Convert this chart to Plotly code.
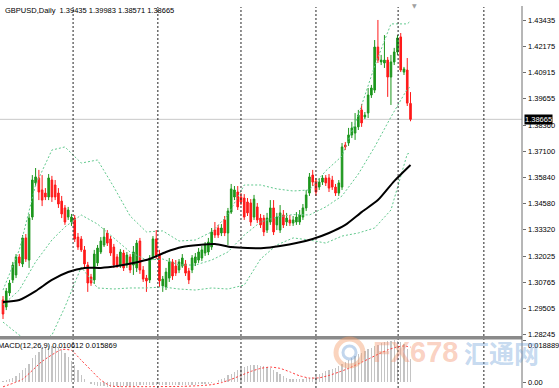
import plotly.graph_objects as go

# ---------------- data ----------------
open_ = [1.2993,1.2959,1.3027,1.3090,1.3114,1.3201,1.3167,1.3293,1.3186,1.3394,
1.3559,1.3583,1.3525,1.3510,1.3491,1.3573,1.3549,1.3510,1.3471,1.3438,
1.3394,1.3370,1.3389,1.3297,1.3288,1.3235,1.3162,1.3104,1.3090,1.3172,
1.3225,1.3259,1.3317,1.3288,1.3249,1.3201,1.3162,1.3220,1.3162,1.3201,
1.3162,1.3148,1.3278,1.3138,1.3099,1.3090,1.3201,1.3288,1.3215,1.3061,
1.3056,1.3099,1.3177,1.3157,1.3138,1.3157,1.3167,1.3133,1.3138,1.3172,
1.3186,1.3196,1.3220,1.3225,1.3249,1.3331,1.3341,1.3317,1.3380,1.3317,
1.3418,1.3491,1.3515,1.3491,1.3486,1.3467,1.3462,1.3394,1.3443,1.3389,
1.3389,1.3331,1.3370,1.3438,1.3356,1.3331,1.3404,1.3370,1.3380,1.3365,
1.3370,1.3370,1.3394,1.3438,1.3510,1.3597,1.3568,1.3539,1.3563,1.3583,
1.3583,1.3573,1.3539,1.3510,1.3539,1.3742,1.3752,1.3791,1.3800,1.3830,
1.3912,1.3878,1.3897,1.3984,1.4008,1.4216,1.4144,1.4139,1.4153,1.4071,
1.4144,1.4192,1.4265,1.4095,1.4105,1.39435]
high = [1.3012,1.3051,1.3090,1.3177,1.3215,1.3215,1.3307,1.3312,1.3409,1.3597,
1.3631,1.3622,1.3597,1.3534,1.3602,1.3593,1.3573,1.3534,1.3496,1.3452,
1.3443,1.3409,1.3404,1.3317,1.3302,1.3254,1.3177,1.3119,1.3235,1.3259,
1.3297,1.3341,1.3331,1.3302,1.3264,1.3215,1.3239,1.3235,1.3225,1.3215,
1.3254,1.3283,1.3293,1.3157,1.3114,1.3210,1.3302,1.3331,1.3235,1.3109,
1.3148,1.3196,1.3191,1.3186,1.3191,1.3215,1.3186,1.3148,1.3210,1.3220,
1.3244,1.3254,1.3273,1.3293,1.3341,1.3370,1.3356,1.3360,1.3399,1.3438,
1.3554,1.3544,1.3544,1.3510,1.3505,1.3486,1.3481,1.3501,1.3462,1.3409,
1.3404,1.3414,1.3476,1.3476,1.3414,1.3452,1.3428,1.3414,1.3404,1.3399,
1.3418,1.3428,1.3457,1.3525,1.3607,1.3622,1.3583,1.3583,1.3597,1.3597,
1.3602,1.3593,1.3554,1.3573,1.3752,1.3757,1.3825,1.3854,1.3897,1.3912,
1.3941,1.3902,1.4018,1.4033,1.4250,1.4347,1.4178,1.4274,1.4168,1.4178,
1.4212,1.4274,1.4284,1.4120,1.4163,1.39983]
low = [1.2901,1.2944,1.3012,1.3075,1.3099,1.3157,1.3152,1.3177,1.3148,1.3380,
1.3544,1.3476,1.3447,1.3476,1.3476,1.3467,1.3476,1.3438,1.3389,1.3356,
1.3380,1.3351,1.3273,1.3235,1.3225,1.3148,1.3032,1.3061,1.3070,1.3157,
1.3215,1.3249,1.3254,1.3206,1.3148,1.3148,1.3148,1.3133,1.3148,1.3123,
1.3114,1.3128,1.3119,1.3080,1.3032,1.3075,1.3186,1.3191,1.3056,1.3032,
1.3041,1.3080,1.3090,1.3109,1.3123,1.3148,1.3109,1.3070,1.3123,1.3157,
1.3172,1.3181,1.3206,1.3210,1.3235,1.3293,1.3293,1.3302,1.3302,1.3259,
1.3409,1.3476,1.3428,1.3452,1.3380,1.3399,1.3351,1.3380,1.3365,1.3341,
1.3302,1.3317,1.3356,1.3307,1.3331,1.3317,1.3341,1.3351,1.3351,1.3351,
1.3356,1.3356,1.3380,1.3423,1.3496,1.3544,1.3496,1.3525,1.3549,1.3544,
1.3515,1.3525,1.3496,1.3496,1.3525,1.3718,1.3738,1.3776,1.3767,1.3815,
1.3830,1.3868,1.3873,1.3970,1.3994,1.4139,1.4129,1.4115,1.3975,1.3936,
1.4129,1.4178,1.4095,1.4081,1.3931,1.38571]
close = [1.2925,1.3036,1.3075,1.3162,1.3201,1.3172,1.3293,1.3191,1.3389,1.3573,
1.3588,1.3515,1.3476,1.3491,1.3583,1.3491,1.3491,1.3457,1.3409,1.3370,
1.3428,1.3394,1.3288,1.3249,1.3235,1.3167,1.3075,1.3075,1.3215,1.3244,
1.3278,1.3297,1.3268,1.3220,1.3162,1.3162,1.3225,1.3148,1.3210,1.3138,
1.3225,1.3268,1.3138,1.3094,1.3085,1.3196,1.3288,1.3206,1.3085,1.3094,
1.3128,1.3177,1.3109,1.3123,1.3177,1.3196,1.3123,1.3090,1.3196,1.3201,
1.3225,1.3235,1.3259,1.3273,1.3322,1.3307,1.3307,1.3341,1.3317,1.3423,
1.3530,1.3525,1.3443,1.3467,1.3394,1.3414,1.3370,1.3481,1.3380,1.3356,
1.3322,1.3389,1.3438,1.3322,1.3394,1.3414,1.3356,1.3389,1.3365,1.3380,
1.3394,1.3404,1.3438,1.3501,1.3588,1.3563,1.3515,1.3563,1.3583,1.3559,
1.3534,1.3539,1.3510,1.3559,1.3733,1.3733,1.3791,1.3825,1.3830,1.3887,
1.3849,1.3887,1.3984,1.4018,1.4216,1.4153,1.4153,1.4153,1.4071,1.4144,
1.4192,1.4260,1.4105,1.4110,1.3945,1.38665]

ma_at = [0,5,10,15,20,25,30,35,40,45,50,55,60,65,70,75,80,85,90,95,100,105,110,115,120,125]
ma_val = [1.2983,1.2993,1.3036,1.3090,1.3128,1.3148,1.3148,1.3157,1.3172,1.3191,
1.3225,1.3249,1.3259,1.3264,1.3249,1.3244,1.3244,1.3254,1.3268,1.3288,
1.3317,1.3356,1.3418,1.3476,1.3568,1.3646]

bb_at = [0,5,10,15,19,24,29,34,39,44,49,54,59,64,69,74,79,84,89,94,99,104,109,114,119,124,125]
bb_upper = [1.3041,1.3235,1.3549,1.3718,1.3733,1.3655,1.3670,1.3539,1.3399,1.3322,
1.3327,1.3278,1.3283,1.3322,1.3404,1.3549,1.3549,1.3530,1.3520,1.3525,
1.3617,1.3689,1.3887,1.4124,1.4328,1.4328,1.4342]
bb_middle = [1.2969,1.3041,1.3177,1.3283,1.3346,1.3404,1.3360,1.3293,1.3225,1.3186,
1.3191,1.3162,1.3162,1.3186,1.3225,1.3307,1.3370,1.3394,1.3406,1.3404,
1.3443,1.3496,1.3602,1.3733,1.3878,1.4013,1.4023]
bb_lower = [1.2886,1.2823,1.2775,1.2823,1.2959,1.3152,1.3051,1.3046,1.3051,1.3051,
1.3056,1.3046,1.3041,1.3051,1.3046,1.3065,1.3191,1.3259,1.3293,1.3283,
1.3268,1.3302,1.3317,1.3341,1.3428,1.3699,1.3704]

macd = [0.0004,0.0008,0.0012,0.0018,0.0028,0.0042,0.0053,0.0062,0.0084,0.0108,
0.0123,0.0138,0.0153,0.0160,0.0164,0.0166,0.0164,0.0158,0.0145,0.0130,
0.0112,0.0094,0.0076,0.0056,0.0034,0.0014,0.0002,-0.0008,-0.0015,-0.0018,
-0.0019,-0.0020,-0.0021,-0.0021,-0.0020,-0.0020,-0.0021,-0.0020,-0.0019,-0.0018,-0.0017,-0.0016,
-0.0015,-0.0014,-0.0014,-0.0015,-0.0015,-0.0014,-0.0014,-0.0015,-0.0015,-0.0014,-0.0014,-0.0013,-0.0013,-0.0014,-0.0014,-0.0013,-0.0013,-0.0012,-0.0011,
-0.0010,-0.0009,-0.0007,-0.0005,
0.0000,0.0008,0.0014,0.0020,0.0030,0.0038,0.0046,0.0056,0.0064,0.0070,
0.0074,0.0076,0.0077,0.0076,0.0075,0.0073,0.0068,0.0063,0.0054,0.0044,
0.0036,0.0027,0.0020,0.0015,0.0013,0.0013,0.0013,0.0014,0.0016,0.0018,
0.0023,0.0029,0.0036,0.0042,0.0048,0.0055,0.0060,0.0066,0.0072,0.0080,
0.0090,0.0099,0.0107,0.0117,0.0126,0.0134,0.0143,0.0150,0.0156,0.0163,
0.0170,0.0176,0.0182,0.0186,0.0188,0.018889,0.0187,0.0183,0.0174,0.0150,0.010612]

sig_at = [0,6,12,18,21,24,27,30,33,36,45,55,61,64,67,70,73,76,79,82,85,88,91,94,97,100,103,106,109,112,115,118,121,123,125]
sig_val = [-0.0022,0.0013,0.0094,0.0148,0.0144,0.0099,0.0054,0.0009,-0.0018,-0.0021,
-0.0021,-0.0020,-0.0016,-0.0012,-0.0003,0.0012,0.0030,0.0048,0.0062,0.0068,
0.0062,0.0046,0.0028,0.0018,0.0019,0.0030,0.0045,0.0062,0.0083,0.0104,
0.0126,0.0146,0.0160,0.0164,0.015869]

price_ticks = [1.43435,1.42175,1.40915,1.39655,1.38360,1.37100,1.35840,1.34580,
               1.33320,1.32025,1.30765,1.29505,1.28245]
last_price = 1.38665
title_text = "GBPUSD,Daily  1.39435 1.39983 1.38571 1.38665"
macd_text = "MACD(12,26,9) 0.010612 0.015869"
macd_max = 0.018889

# ---------------- layout constants ----------------
W, H = 559, 388
PW = 522          # plot area width in px
FONT = "Liberation Sans"
grid_at = [21.5, 47.5, 73.0, 96.0, 121.2, 147.5]

def px(xp):
    return xp / PW

def py(yp):
    return 1 - yp / H

idx = list(range(len(close)))

fig = go.Figure()
fig.add_trace(go.Candlestick(
    x=idx, open=open_, high=high, low=low, close=close,
    increasing=dict(line=dict(color="#1c961c", width=1), fillcolor="#1c961c"),
    decreasing=dict(line=dict(color="#ff1a1a", width=1), fillcolor="#ff1a1a"),
    whiskerwidth=0, showlegend=False, hoverinfo="skip", xaxis="x", yaxis="y"))

bb_style = dict(color="#62c98e", width=1, dash="2px,2px")
for arr in (bb_upper, bb_middle, bb_lower):
    fig.add_trace(go.Scatter(x=bb_at, y=arr, mode="lines", line=bb_style,
                             showlegend=False, hoverinfo="skip", xaxis="x", yaxis="y"))

fig.add_trace(go.Scatter(x=ma_at, y=ma_val, mode="lines",
                         line=dict(color="#000000", width=2, shape="spline", smoothing=0.6),
                         showlegend=False, hoverinfo="skip", xaxis="x", yaxis="y"))

fig.add_trace(go.Bar(x=idx, y=macd, marker=dict(color="#c4c4c4", line=dict(width=0)),
                     width=0.4, showlegend=False, hoverinfo="skip", xaxis="x", yaxis="y2"))
fig.add_trace(go.Scatter(x=sig_at, y=sig_val, mode="lines",
                         line=dict(color="#ff3b3b", width=1, dash="2px,2px", shape="spline", smoothing=0.5),
                         showlegend=False, hoverinfo="skip", xaxis="x", yaxis="y2"))

shapes = []
# current price line
shapes.append(dict(type="line", xref="paper", yref="y", x0=0, x1=1, y0=last_price, y1=last_price,
                   line=dict(color="#c8c8c8", width=1), layer="below"))
# vertical dotted grid
for g in grid_at:
    shapes.append(dict(type="line", xref="x", yref="paper", x0=g, x1=g, y0=0, y1=py(7),
                       line=dict(color="#222222", width=1, dash="2px,2px"), layer="above"))
# separator between panels
shapes.append(dict(type="rect", xref="paper", yref="paper", x0=0, x1=1, y0=py(339.5), y1=py(336),
                   fillcolor="#8a8a8a", line=dict(width=0), layer="above"))
# right axis line
shapes.append(dict(type="line", xref="paper", yref="paper", x0=1, x1=1, y0=0, y1=py(6),
                   line=dict(color="#6e6e6e", width=1)))
# watermark logo
shapes.append(dict(type="circle", xref="paper", yref="paper",
                   x0=px(336), x1=px(363), y0=py(366), y1=py(339),
                   line=dict(color="rgba(245,160,110,0.45)", width=5)))
shapes.append(dict(type="circle", xref="paper", yref="paper",
                   x0=px(343), x1=px(356), y0=py(359), y1=py(346),
                   line=dict(color="rgba(120,165,215,0.45)", width=3)))

small = dict(family=FONT, size=7.5, color="#000000")
annotations = [
    dict(text=title_text, xref="paper", yref="paper", x=px(3), y=py(10), xanchor="left",
         yanchor="middle", showarrow=False, font=small),
    dict(text=macd_text, xref="paper", yref="paper", x=px(0), xshift=-4, y=py(345), xanchor="left",
         yanchor="middle", showarrow=False, font=small),
    dict(text=f"{macd_max:.6f}", xref="paper", yref="paper", x=1, xshift=4, y=py(345.5), xanchor="left",
         yanchor="middle", showarrow=False, font=small),
    dict(text="0.00", xref="paper", yref="paper", x=1, xshift=4, y=py(382), xanchor="left",
         yanchor="middle", showarrow=False, font=small),
    dict(text="▼", xref="paper", yref="paper", x=px(414), y=py(6), xanchor="center",
         yanchor="middle", showarrow=False, font=dict(family="DejaVu Sans", size=6, color="#a0a0a0")),
    dict(text="<b>FX678</b>", xref="paper", yref="paper", x=px(415), y=py(352), xanchor="center",
         yanchor="middle", showarrow=False,
         font=dict(family="Liberation Sans", size=29, color="rgba(244,140,100,0.40)")),
    dict(text="<b>汇通网</b>", xref="paper", yref="paper", x=px(501), y=py(352), xanchor="center",
         yanchor="middle", showarrow=False,
         font=dict(family="Noto Sans CJK SC", size=25, color="rgba(110,160,215,0.40)")),
]
# price scale labels (drawn next to the axis ticks)
for v in price_ticks:
    annotations.append(dict(text=f"{v:.5f}", xref="paper", yref="y", x=1, xshift=4, y=v,
                            xanchor="left", yanchor="middle", showarrow=False, font=small))
# current price box
annotations.append(dict(text=f"{last_price:.5f}", xref="paper", yref="y", x=1, y=last_price,
                        xanchor="left", yanchor="middle", showarrow=False, bgcolor="#000000",
                        borderpad=0, xshift=2, font=dict(family=FONT, size=7.5, color="#ffffff")))

fig.update_layout(
    width=W, height=H,
    margin=dict(l=0, r=W - PW, t=0, b=0, autoexpand=False),
    paper_bgcolor="#ffffff", plot_bgcolor="#ffffff",
    showlegend=False, bargap=0, hovermode=False, dragmode=False,
    xaxis=dict(domain=[0, 1], range=[-0.92, 159.2], showticklabels=False, showgrid=False,
               zeroline=False, showline=False, ticks="", rangeslider=dict(visible=False),
               anchor="y2", fixedrange=True),
    yaxis=dict(domain=[py(337), 1], range=[1.28139, 1.44436], side="right", anchor="x",
               tickvals=price_ticks, showticklabels=False, fixedrange=True,
               ticks="outside", ticklen=3, tickcolor="#6e6e6e", showgrid=False, zeroline=False,
               showline=False),
    yaxis2=dict(domain=[0, py(339.5)], range=[-0.00273, 0.01934], side="right", anchor="x",
                tickvals=[macd_max, 0], showticklabels=False, ticks="outside", ticklen=3,
                fixedrange=True, tickcolor="#6e6e6e", showgrid=False, zeroline=False, showline=False),
    shapes=shapes, annotations=annotations,
)

fig.write_html("out.html", config={"displayModeBar": False, "staticPlot": True},
               post_script="document.body.style.margin='0';document.body.style.padding='0';")
